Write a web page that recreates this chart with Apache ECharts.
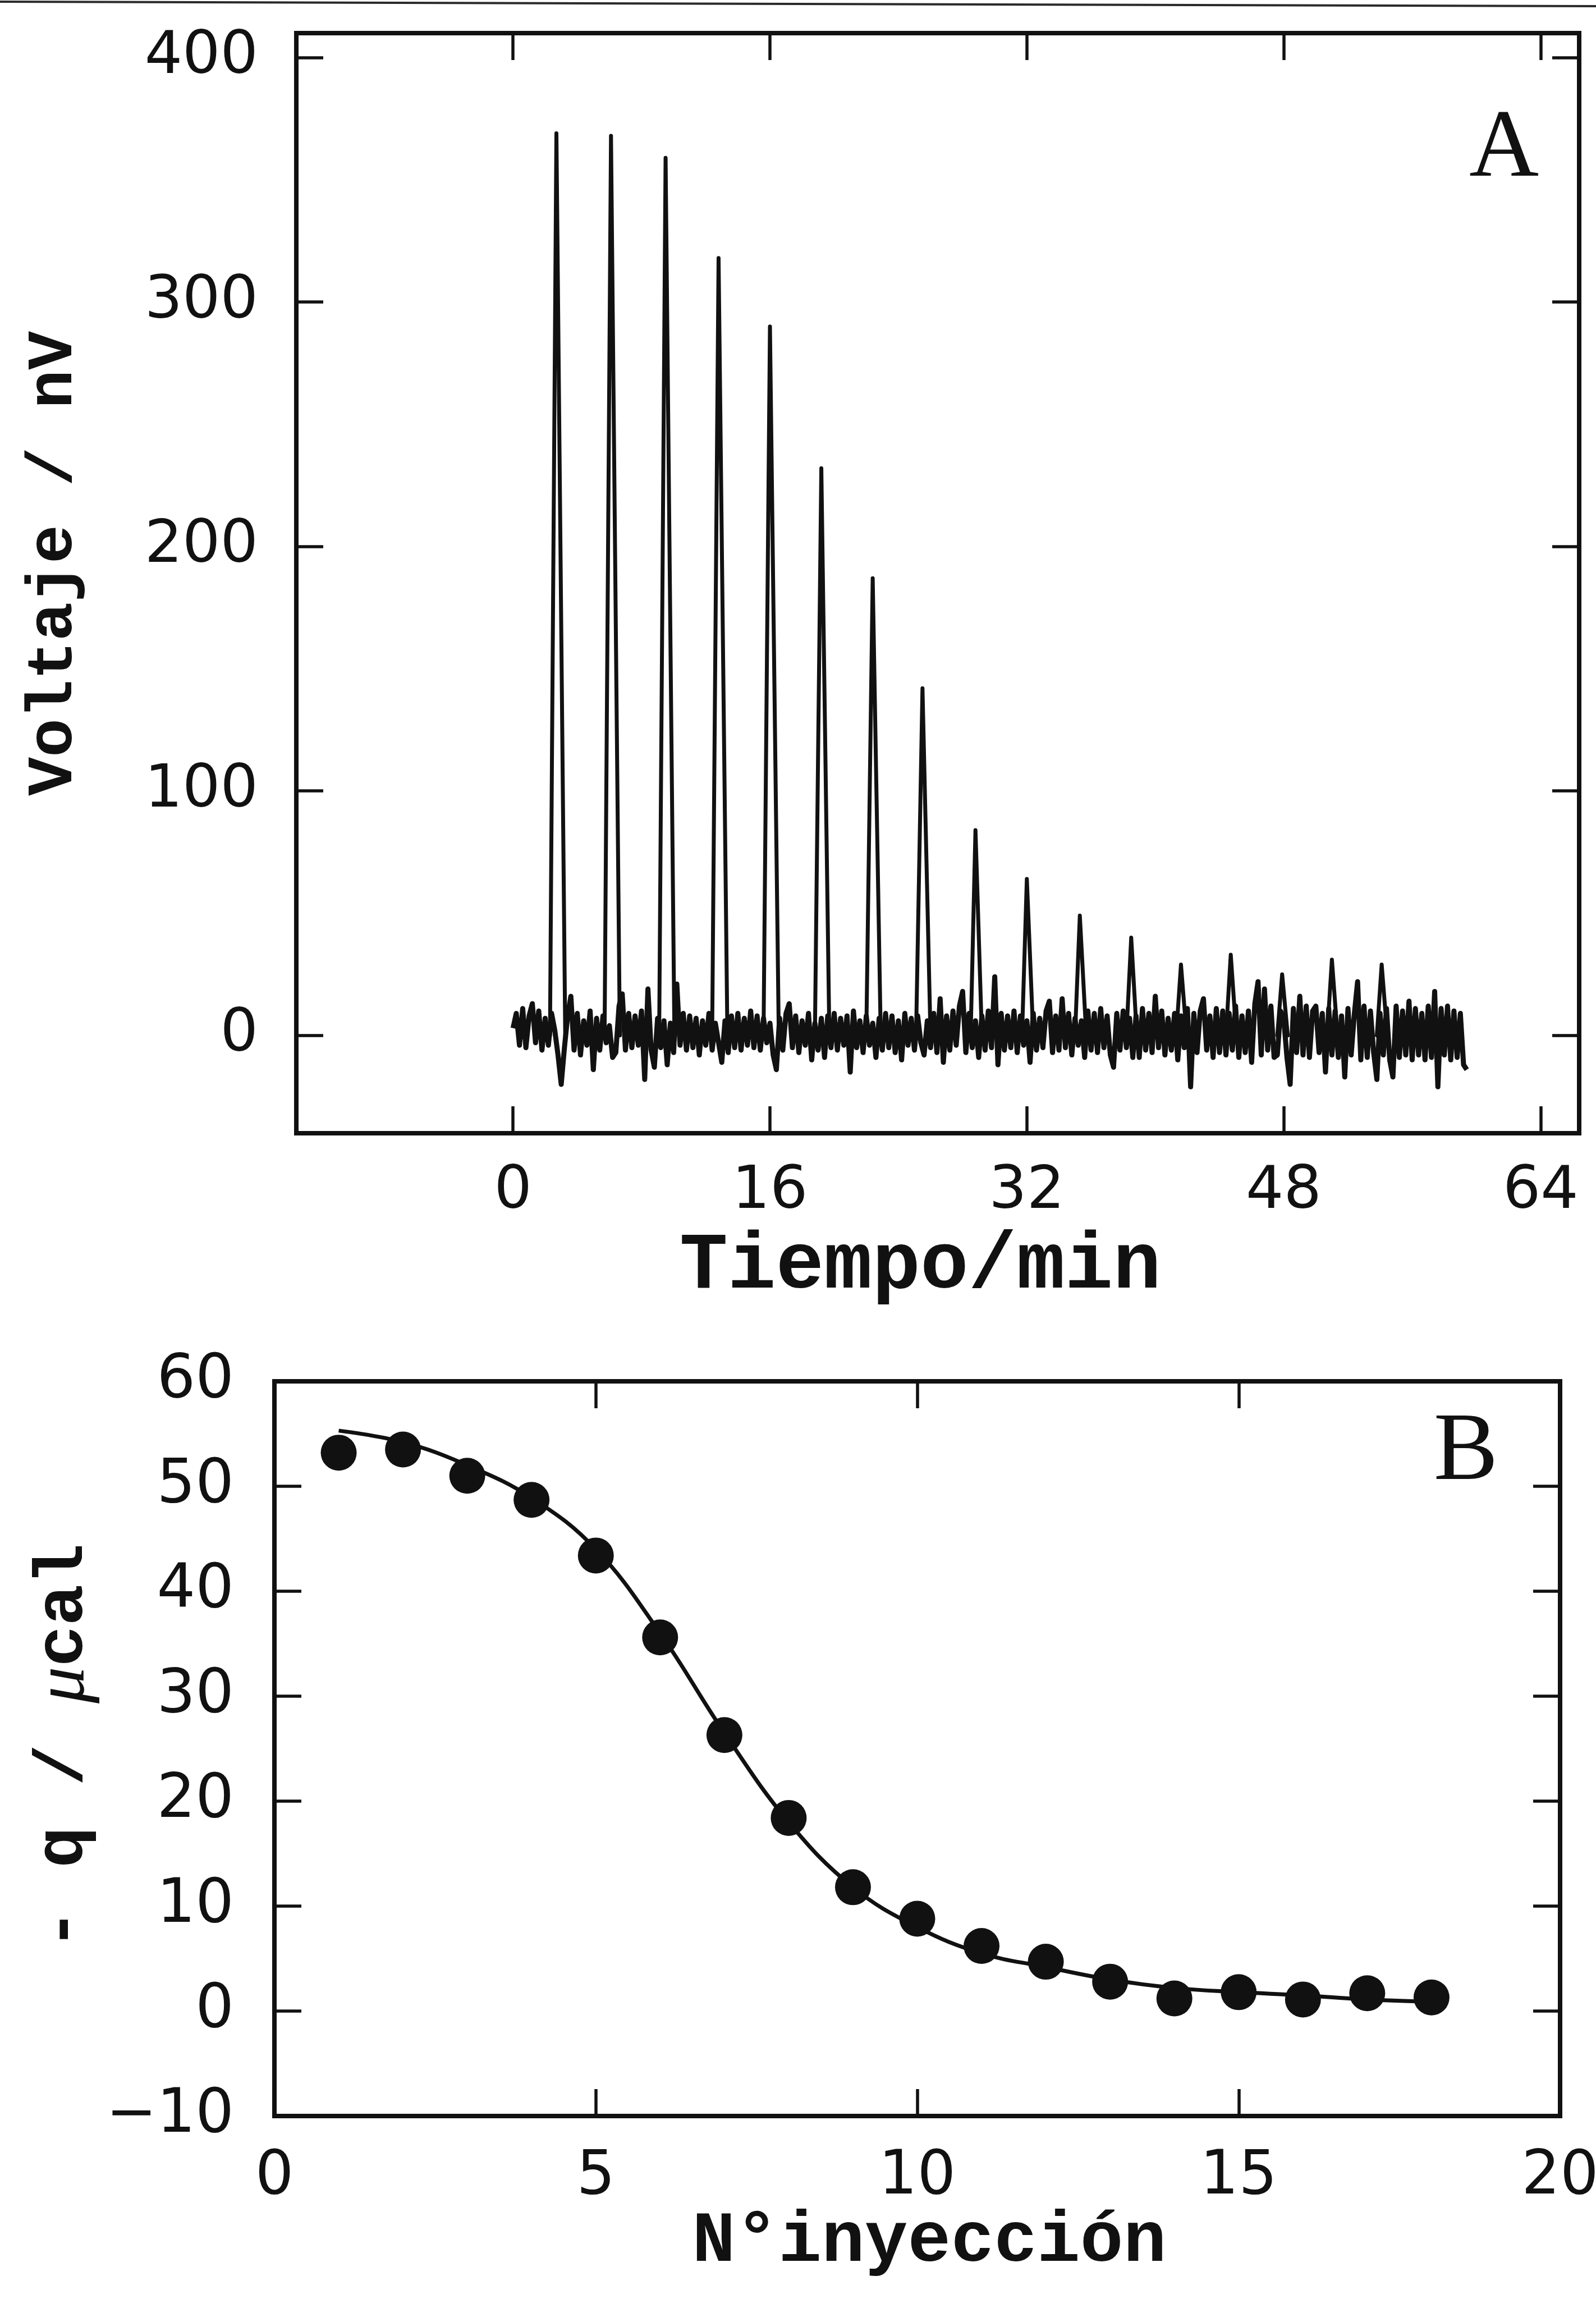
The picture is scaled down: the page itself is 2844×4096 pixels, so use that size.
<!DOCTYPE html>
<html>
<head>
<meta charset="utf-8">
<script src="https://cdn.jsdelivr.net/npm/echarts@6/dist/echarts.min.js"></script>
<style>
html,body{margin:0;padding:0;background:#ffffff;}
#chart{width:2844px;height:4096px;}
</style>
</head>
<body>
<div id="chart"></div>
<script>
// ---------------- Panel A: thermogram ----------------
const timeTicks = [0, 16, 32, 48, 64];
const voltTicks = [0, 100, 200, 300, 400];
// baseline trace, every 0.2 min from t = 0
const noiseStart = 0;
const noiseStep = 0.2;
const noiseValues = [
  3, 9, -4, 11, -5,   8, 13, -3, 10, -6,   7, -4, 9, 2, -8,   -20, -5, 8, 16, -6,
  9, -8, 6, -4, 10,   -14, 7, -6, 8, -3,   4, -9, -7, 12, 17,   -6, 9, -5, 8, -4,
  10, -18, 19, -6, -13,   7, -5, 6, -12, 5,   -7, 21, -4, 9, -6,   8, -5, 7, -8, 6,
  -4, 9, -6, 5, -3,   -11, 6, -7, 8, -5,   9, -6, 7, -4, 10,   -5, 8, -6, 7, -3,
  5, -8, -14, 7, -6,   9, 13, -5, 8, -7,   6, -4, 9, -10, 5,   -6, 7, -9, 8, -5,
  9, -6, 7, -4, 8,   -15, 10, -5, 6, -7,   8, -4, 5, -9, 7,   -6, 9, -5, 8, -7,
  6, -10, 9, -4, 7,   -6, 8, -3, -8, 6,   -5, 9, -7, 15, -11,   8, -6, 10, -4, 12,
  18, -7, 9, -5, 6,   -9, 8, -6, 10, -5,   24, -12, 9, -6, 8,   -5, 10, -7, 8, -4,
  6, -11, 9, -6, 7,   -5, 10, 14, -7, 8,   -6, 15, -5, 9, -8,   7, -4, 6, -9, 10,
  -6, 9, -7, 11, -5,   8, -8, -13, 9, -6,   10, -5, 7, -9, 8,   -9, 11, -6, 9, -7,
  16, -5, 10, -8, 7,   -6, 9, -10, 8, -5,   11, -21, 9, -7, 10,   15, -6, 8, -9, 11,
  -7, 10, -8, 9, -6,   12, -9, 8, -7, 10,   -11, 13, 22, -8, 19,   -6, 12, -9, -8, 10,
  7, -9, -20, 11, -7,   16, -8, 12, -9, 10,   12, -7, 9, -15, 11,   -8, 10, -9, 8, -17,
  11, -8, 9, 22, -10,   12, -9, 10, -7, -18,   9, -8, 11, -10, -17,   12, -9, 10, -8, 14,
  -10, 11, -8, 9, -10,   12, -9, 18, -21, 11,   -8, 12, -10, 10, -9,   9, -12, -14
];
// injection peaks (min, nV)
const peakStart  = [2.3, 5.7, 9.1, 12.4, 15.6, 18.8, 22.0, 25.1, 28.5, 31.7, 35.0, 38.2, 41.3, 44.4, 47.6, 50.7, 53.8];
const peakTime   = [2.7, 6.1, 9.5, 12.8, 16.0, 19.2, 22.4, 25.5, 28.8, 32.0, 35.3, 38.5, 41.6, 44.7, 47.9, 51.0, 54.1];
const peakEnd    = [3.25, 6.65, 10.05, 13.35, 16.55, 19.7, 22.9, 26.0, 29.2, 32.4, 35.7, 38.85, 41.95, 45.05, 48.25, 51.35, 54.45];
const peakHeight = [369, 368, 359, 318, 290, 232, 187, 142, 84, 64, 49, 40, 29, 33, 25, 31, 29];

// ---------------- Panel B: integrated heats ----------------
const injTicks  = [0, 5, 10, 15, 20];
const heatTicks = [-10, 0, 10, 20, 30, 40, 50, 60];
const injection = [1, 2, 3, 4, 5, 6, 7, 8, 9, 10, 11, 12, 13, 14, 15, 16, 17, 18];
const heatObserved = [53.2, 53.5, 51.0, 48.7, 43.4, 35.6, 26.3, 18.4, 11.8, 8.8, 6.2, 4.7, 2.8, 1.2, 1.8, 1.1, 1.7, 1.3];
const heatFit      = [55.3, 54.2, 52.0, 48.9, 44.0, 36.0, 26.5, 18.0, 11.8, 8.0, 5.5, 4.2, 3.0, 2.2, 1.8, 1.5, 1.1, 0.9];

// ---------------- build ----------------
const INK = '#111111';
const noiseData = noiseValues.map((v, i) => [Math.round((noiseStart + i * noiseStep) * 100) / 100, v]);
const peakSeries = peakTime.map((t, i) => ({
  type: 'line', xAxisIndex: 0, yAxisIndex: 0, showSymbol: false, silent: true, z: 3,
  lineStyle: { color: INK, width: 7, join: 'round', cap: 'round' },
  data: [[peakStart[i], 0], [t, peakHeight[i]], [peakEnd[i], 0]]
}));

function axisBase(ticks, showLabel, margin, fontSize) {
  return {
    axisLine: { show: true, onZero: false, lineStyle: { color: INK, width: 8, cap: 'square' } },
    axisTick: { show: true, inside: true, length: 48, customValues: ticks, lineStyle: { color: INK, width: 5.5 } },
    axisLabel: {
      show: showLabel, customValues: ticks, margin: margin, color: INK,
      fontFamily: 'DejaVu Sans', fontSize: fontSize,
      formatter: v => (v < 0 ? '\u2212' + Math.abs(v) : String(v))
    },
    splitLine: { show: false },
    minorTick: { show: false }
  };
}

const option = {
  animation: false,
  backgroundColor: '#ffffff',
  grid: [
    { left: 528, top: 59, width: 2286, height: 1960, outerBoundsMode: 'none', containLabel: false },
    { left: 489, top: 2461, width: 2291, height: 1309, outerBoundsMode: 'none', containLabel: false }
  ],
  xAxis: [
    Object.assign({ type: 'value', gridIndex: 0, position: 'bottom', min: -13.5, max: 66.4 }, axisBase(timeTicks, true, 52, 106)),
    Object.assign({ type: 'value', gridIndex: 0, position: 'top', min: -13.5, max: 66.4 }, axisBase(timeTicks, false, 52, 106)),
    Object.assign({ type: 'value', gridIndex: 1, position: 'bottom', min: 0, max: 20 }, axisBase(injTicks, true, 56, 108)),
    Object.assign({ type: 'value', gridIndex: 1, position: 'top', min: 0, max: 20 }, axisBase(injTicks, false, 56, 108))
  ],
  yAxis: [
    Object.assign({ type: 'value', gridIndex: 0, position: 'left', min: -40, max: 410 }, axisBase(voltTicks, true, 68, 106)),
    Object.assign({ type: 'value', gridIndex: 0, position: 'right', min: -40, max: 410 }, axisBase(voltTicks, false, 68, 106)),
    Object.assign({ type: 'value', gridIndex: 1, position: 'left', min: -10, max: 60 }, axisBase(heatTicks, true, 72, 108)),
    Object.assign({ type: 'value', gridIndex: 1, position: 'right', min: -10, max: 60 }, axisBase(heatTicks, false, 72, 108))
  ],
  series: [
    {
      type: 'line', xAxisIndex: 0, yAxisIndex: 0, showSymbol: false, silent: true, z: 2,
      lineStyle: { color: INK, width: 9, join: 'round' },
      data: noiseData
    }
  ].concat(peakSeries).concat([
    {
      type: 'line', xAxisIndex: 2, yAxisIndex: 2, showSymbol: false, silent: true, smooth: 0.4, z: 2,
      lineStyle: { color: INK, width: 7 },
      data: injection.map((x, i) => [x, heatFit[i]])
    },
    {
      type: 'scatter', xAxisIndex: 2, yAxisIndex: 2, symbol: 'circle', symbolSize: 64, silent: true, z: 3,
      itemStyle: { color: INK, opacity: 1 },
      data: injection.map((x, i) => [x, heatObserved[i]])
    }
  ]),
  graphic: [
    { type: 'line', silent: true, shape: { x1: 0, y1: 3, x2: 2844, y2: 11 }, style: { stroke: '#2a2a2a', lineWidth: 4 } },
    { type: 'text', silent: true, x: 1640, y: 2258,
      style: { text: 'Tiempo/min', font: 'bold 143px "Liberation Mono"', fill: INK, align: 'center', verticalAlign: 'middle', textAlign: 'center', textVerticalAlign: 'middle' } },
    { type: 'text', silent: true, x: 1656, y: 3996,
      style: { text: 'N\u00b0inyecci\u00f3n', font: 'bold 128px "Liberation Mono"', fill: INK, align: 'center', verticalAlign: 'middle', textAlign: 'center', textVerticalAlign: 'middle' } },
    { type: 'text', silent: true, x: 98, y: 1004, rotation: Math.PI / 2,
      style: { text: 'Voltaje / nV', font: 'bold 115px "Liberation Mono"', fill: INK, align: 'center', verticalAlign: 'middle', textAlign: 'center', textVerticalAlign: 'middle' } },
    { type: 'text', silent: true, x: 115, y: 3112, rotation: Math.PI / 2,
      style: { text: '- q / {mu|\u03bc}cal', font: 'bold 122px "Liberation Mono"', fill: INK, align: 'center', verticalAlign: 'middle', textAlign: 'center', textVerticalAlign: 'middle',
        rich: { mu: { font: 'italic 130px "Liberation Serif"', fill: INK } } } },
    { type: 'text', silent: true, x: 2680, y: 268,
      style: { text: 'A', font: '172px "Liberation Serif"', fill: INK, align: 'center', verticalAlign: 'middle', textAlign: 'center', textVerticalAlign: 'middle' } },
    { type: 'text', silent: true, x: 2612, y: 2590,
      style: { text: 'B', font: '172px "Liberation Serif"', fill: INK, align: 'center', verticalAlign: 'middle', textAlign: 'center', textVerticalAlign: 'middle' } }
  ]
};

const chart = echarts.init(document.getElementById('chart'), null, { renderer: 'canvas', width: 2844, height: 4096 });
chart.setOption(option);
</script>
</body>
</html>
